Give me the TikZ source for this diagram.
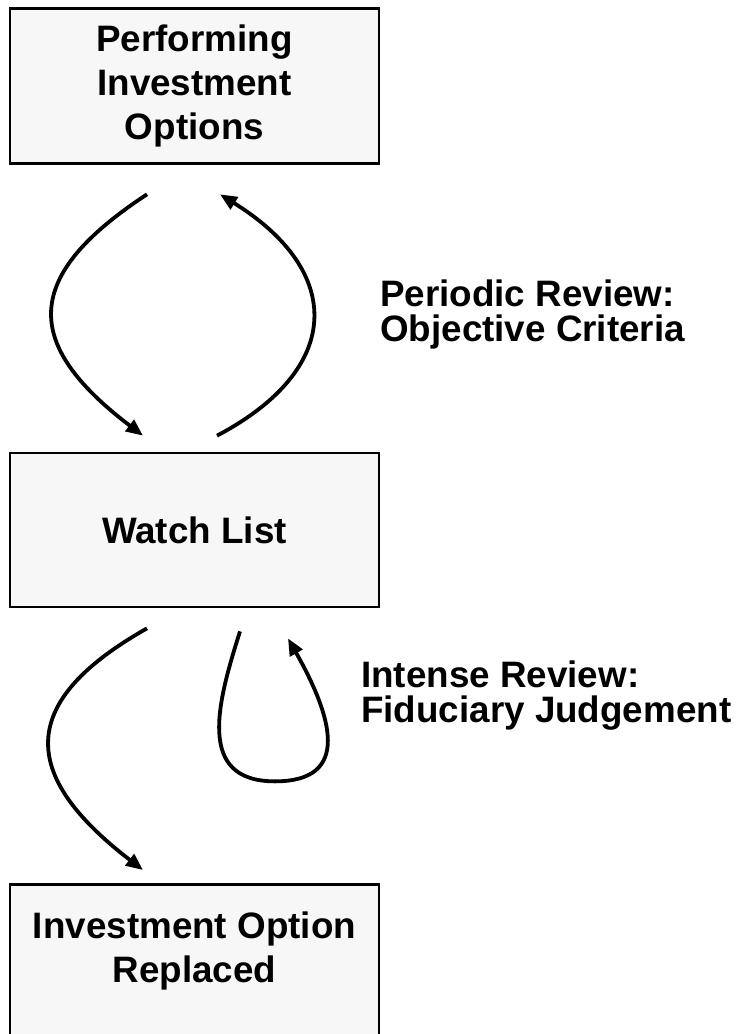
\documentclass[tikz,border=0pt]{standalone}
\usepackage{fontspec}
\setmainfont{Liberation Sans}
\usetikzlibrary{arrows.meta, positioning}
\definecolor{boxgray}{HTML}{F7F7F7}

\begin{document}
\begin{tikzpicture}[x=1pt, y=-1pt,
    btxt/.style={inner sep=0pt, align=center, font=\fontsize{36.8pt}{44pt}\selectfont\bfseries},
    box/.style={btxt, draw=black, line width=2.7pt, fill=boxgray, minimum width=369pt},
    lbl/.style={anchor=north west, inner sep=0pt, align=left, font=\fontsize{36.8pt}{35pt}\selectfont\bfseries},
    arr/.style={-{Triangle[length=17pt, width=14pt]}, line width=3.8pt}]
    \useasboundingbox (0,0) rectangle (738,1034);
    % 三个方框
    \node[box, minimum height=155pt] (perf) at (194.5,86) {Performing\\Investment\\Options};
    \node[box, minimum height=154pt] (watch) at (194.5,530) {Watch List};
    \node[box, minimum height=180pt, anchor=north] (repl) at (194.5,883) {};
    \node[btxt, anchor=north] (repltxt) at (194.5,911.5) {Investment Option\\Replaced};
    % 右侧说明文字
    \node[lbl] (periodic) at (380,280) {Periodic Review:\\Objective Criteria};
    \node[lbl] (intense) at (361,661) {Intense Review:\\Fiduciary Judgement};
    % 定期审查: 上下往返
    \draw[arr] ([xshift=-47.5pt, yshift=-29.5pt]perf.south) .. controls +(-125,82) and +(-121,-92) .. ([xshift=-51.5pt, yshift=16pt]watch.north);
    \draw[arr] ([xshift=22.5pt, yshift=16pt]watch.north) .. controls +(127,-67) and +(124,77) .. ([xshift=25.5pt, yshift=-29.5pt]perf.south);
    % 替换
    \draw[arr] ([xshift=-47.5pt, yshift=-20pt]watch.south) .. controls +(-129,73) and +(-125,-96) .. ([xshift=-51.5pt, yshift=13pt]repl.north);
    % 深入审查: 回到观察名单
    \draw[arr] ([xshift=45.5pt, yshift=-23pt]watch.south) .. controls +(-22,70) and +(-80,0) .. ++(35,150)
        .. controls +(77,0) and +(44,78) .. ([xshift=93.5pt, yshift=-30pt]watch.south);
\end{tikzpicture}
\end{document}
